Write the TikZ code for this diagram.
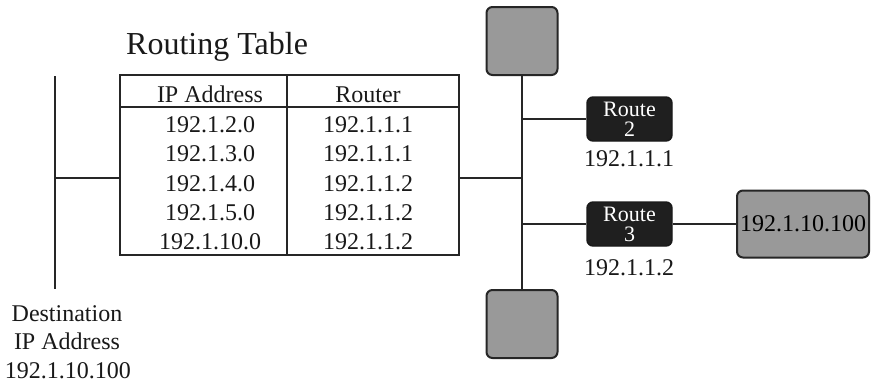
\documentclass[tikz,border=0pt]{standalone}
\usepackage{fontspec}
\setmainfont{Liberation Serif}
\begin{document}
\begin{tikzpicture}[x=1pt,y=-1pt,
  wire/.style={line width=2.1pt, draw=black!85},
  txt/.style={font=\fontsize{24}{28.5}\selectfont, inner sep=0pt, text=black!90},
  graybox/.style={draw=black!85, line width=2pt, fill=black!40, rounded corners=6pt, inner sep=0pt},
  routerbox/.style={draw=black!90, line width=1.4pt, fill=black!88, rounded corners=6pt, inner sep=0pt, text=white, align=center, font=\fontsize{22}{20}\selectfont, minimum width=85pt, minimum height=44pt}
]
\useasboundingbox (0,0) rectangle (876,384);
\fill[white] (0,0) rectangle (876,384);

% title
\node[anchor=base west, font=\fontsize{32}{36}\selectfont, inner sep=0pt, text=black!90] (title) at (126,54) {Routing Table};

% table
\node[draw=black!85, line width=2.1pt, minimum width=339pt, minimum height=180pt, inner sep=0pt] (table) at (289.5,165) {};
\coordinate (hl) at (120,107);
\coordinate (hr) at (459,107);
\coordinate (ct) at (287,75);
\coordinate (cb) at (287,255);
\draw[wire] (hl) -- (hr);
\draw[wire] (ct) -- (cb);

\node[txt, anchor=base] (h1) at (210,102) {IP Address};
\node[txt, anchor=base] (h2) at (368,102) {Router};
\node[txt, anchor=base] (a1) at (210,132) {192.1.2.0};
\node[txt, anchor=base] (a2) at (210,161) {192.1.3.0};
\node[txt, anchor=base] (a3) at (210,191) {192.1.4.0};
\node[txt, anchor=base] (a4) at (210,220) {192.1.5.0};
\node[txt, anchor=base] (a5) at (210,249) {192.1.10.0};
\node[txt, anchor=base] (b1) at (368,132) {192.1.1.1};
\node[txt, anchor=base] (b2) at (368,161) {192.1.1.1};
\node[txt, anchor=base] (b3) at (368,191) {192.1.1.2};
\node[txt, anchor=base] (b4) at (368,220) {192.1.1.2};
\node[txt, anchor=base] (b5) at (368,249) {192.1.1.2};

% left line
\coordinate (ltop) at (55,76);
\coordinate (lbot) at (55,289);
\coordinate (lmid) at (55,178);
\coordinate (tl) at (120,178);
\draw[wire] (ltop) -- (lbot);
\draw[wire] (lmid) -- (tl);

\node[txt, anchor=base] (d1) at (67,321) {Destination};
\node[txt, anchor=base] (d2) at (67,349) {IP Address};
\node[txt, anchor=base] (d3) at (68,378) {192.1.10.100};

% right side
\node[graybox, minimum width=71pt, minimum height=68pt] (top) at (522,41) {};
\node[graybox, minimum width=71pt, minimum height=68pt] (bot) at (522,324) {};
\node[routerbox] (r2) at (629.5,119) {Route\\2};
\node[routerbox] (r3) at (629.5,224) {Route\\3};
\node[graybox, minimum width=132pt, minimum height=67pt, font=\fontsize{24}{28}\selectfont, text=black] (dest) at (803,224) {192.1.10.100};

\node[txt, anchor=base] (ip2) at (629,166) {192.1.1.1};
\node[txt, anchor=base] (ip3) at (629,275) {192.1.1.2};

\coordinate (tr) at (459,178);
\coordinate (bmid) at (522,178);
\coordinate (b2) at (522,119);
\coordinate (b3) at (522,224);
\draw[wire] (top.south) -- (bot.north);
\draw[wire] (tr) -- (bmid);
\draw[wire] (b2) -- (r2.west);
\draw[wire] (b3) -- (r3.west);
\draw[wire] (r3.east) -- (dest.west);
\end{tikzpicture}
\end{document}
